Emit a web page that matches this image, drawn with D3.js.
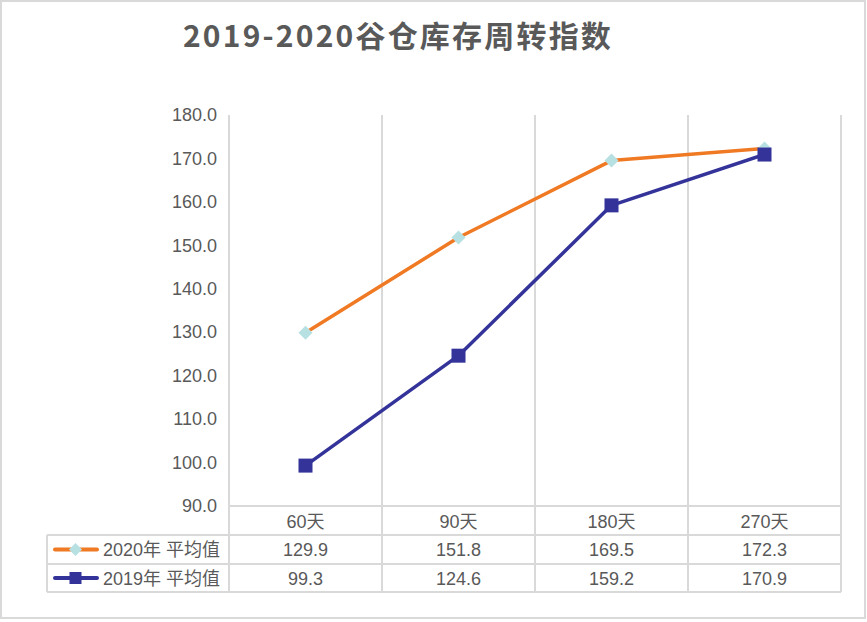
<!DOCTYPE html>
<html>
<head>
<meta charset="utf-8">
<script src="https://cdn.jsdelivr.net/npm/d3@7"></script>
<style>
  body { margin: 0; background: #fff; }
  svg text { font-family: "Liberation Sans", Arial, "Noto Sans CJK SC", sans-serif; fill: #595959; }
</style>
</head>
<body>
<svg id="chart"></svg>
<script>
// data
const categories = ['60天', '90天', '180天', '270天']
const seriesNames = ['2020年 平均值', '2019年 平均值']
const values2020 = [129.9, 151.8, 169.5, 172.3]
const values2019 = [99.3, 124.6, 159.2, 170.9]
const yTicks = [90, 100, 110, 120, 130, 140, 150, 160, 170, 180]

const width = 867
const height = 622
const grid = '#d9d9d9'
const fontSize = '18px'

let svg = d3.select('#chart')
  .attr('width', width)
  .attr('height', height)

// outer border
svg.append('rect')
  .attr('x', 1).attr('y', 1)
  .attr('width', 864).attr('height', 617)
  .attr('fill', '#fff')
  .attr('stroke', grid)
  .attr('stroke-width', 2)

svg.append('text')
  .attr('x', 398).attr('y', 47)
  .attr('text-anchor', 'middle')
  .style('font-family', '"Noto Sans CJK SC", sans-serif')
  .style('font-weight', 'bold')
  .style('font-size', '30px')
  .style('letter-spacing', '2.2px')
  .text('2019-2020谷仓库存周转指数')

let x = d3.scaleBand().domain(categories).range([229, 841])
let y = d3.scaleLinear().domain([90, 180]).range([506, 115])

// vertical grid lines at category boundaries
let bounds = categories.map(c => x(c)).concat([x.range()[1]])
svg.append('g').selectAll('line')
  .data(bounds)
  .enter().append('line')
  .attr('x1', d => d).attr('x2', d => d)
  .attr('y1', y(180)).attr('y2', 592)
  .attr('stroke', grid).attr('stroke-width', 2)

// y axis labels
let yAxis = d3.axisLeft(y).tickValues(yTicks).tickFormat(d3.format('.1f')).tickSize(0).tickPadding(12)
let yg = svg.append('g').attr('transform', 'translate(229,0)').call(yAxis)
yg.select('.domain').remove()
yg.selectAll('text').style('font-size', fontSize).style('fill', '#595959')

// data table lines
let rowY = [506, 535, 564, 592]
svg.append('line')
  .attr('x1', 229).attr('x2', 841).attr('y1', rowY[0]).attr('y2', rowY[0])
  .attr('stroke', grid).attr('stroke-width', 2)
svg.append('g').selectAll('line')
  .data(rowY.slice(1))
  .enter().append('line')
  .attr('x1', 47).attr('x2', 841)
  .attr('y1', d => d).attr('y2', d => d)
  .attr('stroke', grid).attr('stroke-width', 2)
svg.append('line')
  .attr('x1', 47).attr('x2', 47).attr('y1', rowY[1]).attr('y2', rowY[3])
  .attr('stroke', grid).attr('stroke-width', 2)

// category labels (header row)
svg.append('g').selectAll('text')
  .data(categories)
  .enter().append('text')
  .attr('x', d => x(d) + x.bandwidth() / 2)
  .attr('y', 528)
  .attr('text-anchor', 'middle')
  .style('font-size', fontSize)
  .text(d => d)

const series = [
  { name: seriesNames[0], values: values2020, color: '#f07923', marker: 'diamond', fill: '#b7e0e3' },
  { name: seriesNames[1], values: values2019, color: '#333399', marker: 'square', fill: '#333399' }
]

let line = d3.line()
  .x((d, i) => x(categories[i]) + x.bandwidth() / 2)
  .y(d => y(d))

function drawMarker(g, s, cx, cy, size) {
  if (s.marker === 'diamond') {
    g.append('path')
      .attr('d', `M${cx},${cy - size}L${cx + size},${cy}L${cx},${cy + size}L${cx - size},${cy}Z`)
      .attr('fill', s.fill)
  } else {
    g.append('rect')
      .attr('x', cx - size).attr('y', cy - size)
      .attr('width', size * 2).attr('height', size * 2)
      .attr('fill', s.fill)
  }
}

series.forEach((s, k) => {
  let g = svg.append('g')
  g.append('path')
    .datum(s.values)
    .attr('d', line)
    .attr('fill', 'none')
    .attr('stroke', s.color)
    .attr('stroke-width', 3.5)
    .attr('stroke-linejoin', 'round')
  s.values.forEach((v, i) => {
    drawMarker(g, s, x(categories[i]) + x.bandwidth() / 2, y(v), 7)
  })

  // table row
  let cy = (rowY[k + 1] + rowY[k + 2]) / 2
  let key = svg.append('g')
  key.append('line')
    .attr('x1', 55).attr('x2', 97).attr('y1', cy).attr('y2', cy)
    .attr('stroke', s.color).attr('stroke-width', 4).attr('stroke-linecap', 'round')
  drawMarker(key, s, 75.5, cy, s.marker === 'diamond' ? 6.5 : 6)
  key.append('text')
    .attr('x', 103).attr('y', cy + 6.5)
    .style('font-size', fontSize)
    .text(s.name)
  svg.append('g').selectAll('text')
    .data(s.values)
    .enter().append('text')
    .attr('x', (d, i) => x(categories[i]) + x.bandwidth() / 2)
    .attr('y', cy + 6.5)
    .attr('text-anchor', 'middle')
    .style('font-size', fontSize)
    .text(d => d.toFixed(1))
})
</script>
</body>
</html>
